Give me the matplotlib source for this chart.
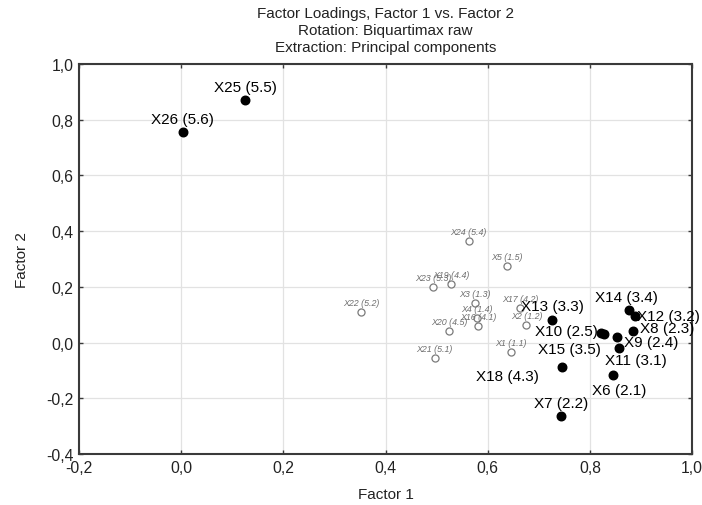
import matplotlib
matplotlib.use("Agg")
import matplotlib.pyplot as plt
from matplotlib.ticker import FuncFormatter

plt.rcParams['font.family'] = ['Liberation Sans', 'DejaVu Sans']

# Major variables (filled markers)
major_names = ["X25 (5.5)", "X26 (5.6)", "X13 (3.3)", "X10 (2.5)", "X15 (3.5)",
               "X14 (3.4)", "X12 (3.2)", "X8 (2.3)", "X9 (2.4)", "X11 (3.1)",
               "X6 (2.1)", "X18 (4.3)", "X7 (2.2)"]
major_f1 = [0.125, 0.003, 0.726, 0.822, 0.828, 0.877, 0.888, 0.884, 0.854, 0.858,
            0.846, 0.746, 0.744]
major_f2 = [0.872, 0.756, 0.081, 0.036, 0.032, 0.118, 0.096, 0.042, 0.019, -0.019,
            -0.116, -0.087, -0.263]

# Minor variables (open markers)
minor_names = ["X24 (5.4)", "X5 (1.5)", "X23 (5.3)", "X19 (4.4)", "X3 (1.3)",
               "X17 (4.2)", "X4 (1.4)", "X16 (4.1)", "X2 (1.2)", "X20 (4.5)",
               "X1 (1.1)", "X21 (5.1)", "X22 (5.2)"]
minor_f1 = [0.563, 0.637, 0.493, 0.529, 0.575, 0.664, 0.579, 0.582, 0.676, 0.525,
            0.645, 0.496, 0.353]
minor_f2 = [0.364, 0.276, 0.199, 0.212, 0.141, 0.124, 0.088, 0.058, 0.063, 0.040,
            -0.033, -0.057, 0.110]

x_ticks = [-0.2, 0.0, 0.2, 0.4, 0.6, 0.8, 1.0]
y_ticks = [-0.4, -0.2, 0.0, 0.2, 0.4, 0.6, 0.8, 1.0]

# label placement (offset in pixels, ha, va)
major_label_style = {
    "X25 (5.5)": (0, 6, "center", "bottom"),
    "X26 (5.6)": (0, 6, "center", "bottom"),
    "X13 (3.3)": (0, 7, "center", "bottom"),
    "X10 (2.5)": (-3, 2, "right", "center"),
    "X15 (3.5)": (-3, -15, "right", "center"),
    "X14 (3.4)": (-3, 6, "center", "bottom"),
    "X12 (3.2)": (2, 0, "left", "center"),
    "X8 (2.3)": (7, 3, "left", "center"),
    "X9 (2.4)": (7, -5, "left", "center"),
    "X11 (3.1)": (16, -12, "center", "center"),
    "X6 (2.1)": (6, -15, "center", "center"),
    "X18 (4.3)": (-23, -9, "right", "center"),
    "X7 (2.2)": (0, 6, "center", "bottom"),
}

fig = plt.figure(figsize=(7.02, 5.06), dpi=100)
ax = fig.add_axes([79/702, 1-455/506, (692-79)/702, (455-65)/506])

ax.set_xlim(-0.2, 1.0)
ax.set_ylim(-0.4, 1.0)
ax.set_xticks(x_ticks)
ax.set_yticks(y_ticks)
fmt = FuncFormatter(lambda v, p: f"{v:.1f}".replace(".", ",").replace("-0,0", "0,0"))
ax.xaxis.set_major_formatter(fmt)
ax.yaxis.set_major_formatter(fmt)
ax.grid(True, color="#e2e2e2", linewidth=0.9)
ax.set_axisbelow(True)
for s in ax.spines.values():
    s.set_color("#3a3a3a")
    s.set_linewidth(1.5)
ax.tick_params(direction="in", length=3, width=1, color="#3a3a3a",
               labelsize=11.3, labelcolor="#222222", pad=4,
               top=True, right=True)

ax.scatter(minor_f1, minor_f2, s=26, facecolors="white", edgecolors="#7a7a7a",
           linewidths=0.9, zorder=3)
ax.scatter(major_f1, major_f2, s=38, color="black", zorder=4)

for n, x, y in zip(minor_names, minor_f1, minor_f2):
    ax.annotate(n, (x, y), xytext=(0, 5), textcoords="offset pixels",
                ha="center", va="bottom", fontsize=6.4, style="italic",
                color="#6e6e6e", zorder=5)

for n, x, y in zip(major_names, major_f1, major_f2):
    dx, dy, ha, va = major_label_style[n]
    ax.annotate(n, (x, y), xytext=(dx, dy), textcoords="offset pixels",
                ha=ha, va=va, fontsize=11, color="black", zorder=6)

ax.set_xlabel("Factor 1", fontsize=11, labelpad=9, color="#222222")
ax.set_ylabel("Factor 2", fontsize=11, labelpad=12, color="#222222")
fig.text(385.5/702, 1-14/506, "Factor Loadings, Factor 1 vs. Factor 2",
         ha="center", va="center", fontsize=11, color="#222222")
fig.text(385.5/702, 1-31/506, "Rotation: Biquartimax raw",
         ha="center", va="center", fontsize=11, color="#222222")
fig.text(385.5/702, 1-48/506, "Extraction: Principal components",
         ha="center", va="center", fontsize=11, color="#222222")

fig.savefig("out.png", dpi=100, facecolor="white")
